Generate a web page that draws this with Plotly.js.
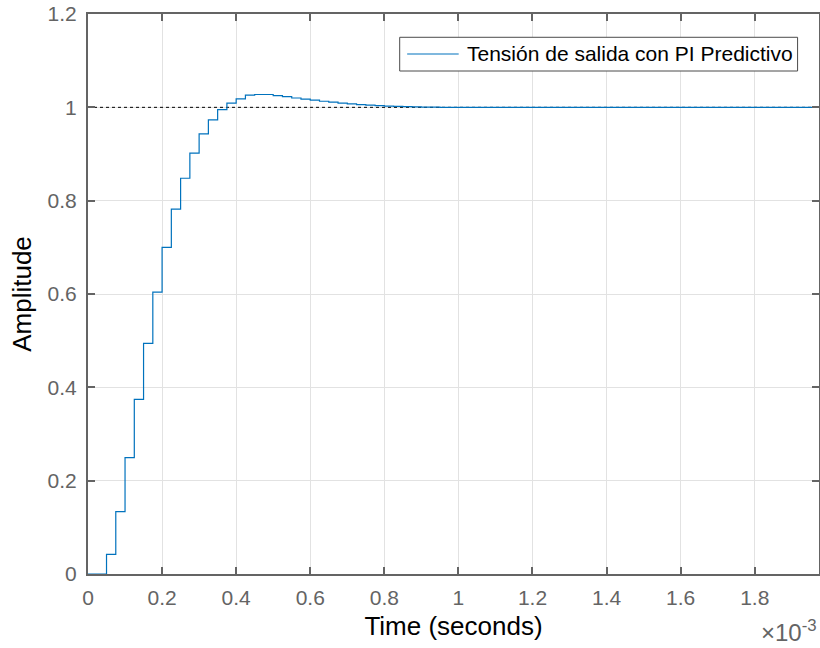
<!DOCTYPE html>
<html>
<head>
<meta charset="utf-8">
<script src="https://cdn.plot.ly/plotly-3.0.1.min.js"></script>
<style>
html,body{margin:0;padding:0;background:#fff;}
#chart{width:820px;height:648px;}
</style>
</head>
<body>
<div id="chart"></div>
<script>
// Sampled step response (stairs), sample time 25 microseconds, starting at t = 0
var sampleStart = 0;
var sampleTime = 2.5e-5;
var amplitude = [
  0, 0, 0.042, 0.1335, 0.2495, 0.374, 0.494, 0.604, 0.700, 0.782,
  0.848, 0.902, 0.943, 0.973, 0.995, 1.009, 1.018, 1.026, 1.0275, 1.0275,
  1.025, 1.023, 1.020, 1.0176, 1.0155, 1.013, 1.011, 1.009, 1.0075, 1.006,
  1.0047, 1.0037, 1.0028, 1.002, 1.0014, 1.001, 1.0006, 1.0003, 1.0001, 1.0,
  1.0, 1.0, 1.0, 1.0, 1.0, 1.0, 1.0, 1.0, 1.0, 1.0,
  1.0, 1.0, 1.0, 1.0, 1.0, 1.0, 1.0, 1.0, 1.0, 1.0,
  1.0, 1.0, 1.0, 1.0, 1.0, 1.0, 1.0, 1.0, 1.0, 1.0,
  1.0, 1.0, 1.0, 1.0, 1.0, 1.0, 1.0, 1.0, 1.0, 1.0
];
var seriesName = 'Tensión de salida con PI Predictivo';

// Steady-state reference line
var steadyX = [0, 1.9735e-3];
var steadyY = [1, 1];

// Axis ticks
var xTickVals = [0, 0.2e-3, 0.4e-3, 0.6e-3, 0.8e-3, 1.0e-3, 1.2e-3, 1.4e-3, 1.6e-3, 1.8e-3];
var xTickText = ['0', '0.2', '0.4', '0.6', '0.8', '1', '1.2', '1.4', '1.6', '1.8'];
var yTickVals = [0, 0.2, 0.4, 0.6, 0.8, 1, 1.2];
var yTickText = ['0', '0.2', '0.4', '0.6', '0.8', '1', '1.2'];
var xRange = [0, 1.9735e-3];
var yRange = [0, 1.2];

var FONT = '"Liberation Sans", Arial, Helvetica, sans-serif';
var AXC = '#646464';
var LINEC = '#0072BD';

var traces = [
  {
    x: steadyX, y: steadyY, type: 'scatter', mode: 'lines',
    line: {color: '#000000', width: 1, dash: 'dot'},
    showlegend: false, hoverinfo: 'skip'
  },
  {
    y: amplitude, x0: sampleStart, dx: sampleTime,
    type: 'scatter', mode: 'lines', name: seriesName,
    line: {color: LINEC, width: 1.2, shape: 'hv'},
    showlegend: false
  }
];

var axisCommon = {
  showline: true, linecolor: AXC, linewidth: 2, mirror: 'ticks',
  ticks: 'inside', ticklen: 7, tickwidth: 2, tickcolor: AXC,
  showgrid: true, gridcolor: '#e2e2e2', gridwidth: 1,
  zeroline: false,
  tickfont: {family: FONT, size: 21, color: AXC}
};

// Legend box (drawn as shapes + text, positioned in paper units)
var legendBox = {x0: 0.4264, x1: 0.9707, y0: 0.8982, y1: 0.9584};
var legendSample = {x0: 0.4366, x1: 0.5071, y: 0.9286};
var legendTextX = 0.5153;

var layout = {
  width: 820, height: 648,
  margin: {l: 87.5, r: 1.3, t: 14, b: 74.3, pad: 0},
  paper_bgcolor: '#ffffff', plot_bgcolor: '#ffffff',
  font: {family: FONT, color: '#000'},
  xaxis: Object.assign({}, axisCommon, {
    range: xRange, tickmode: 'array', tickvals: xTickVals, ticktext: xTickText,
    ticklabelstandoff: 4,
    title: {text: 'Time (seconds)', font: {family: FONT, size: 26, color: '#000'}, standoff: 9}
  }),
  yaxis: Object.assign({}, axisCommon, {
    range: yRange, tickmode: 'array', tickvals: yTickVals, ticktext: yTickText,
    ticklabelstandoff: 5,
    title: {text: 'Amplitude', font: {family: FONT, size: 26, color: '#000'}, standoff: 8}
  }),
  showlegend: false,
  shapes: [
    {
      type: 'rect', xref: 'paper', yref: 'paper',
      x0: legendBox.x0, x1: legendBox.x1, y0: legendBox.y0, y1: legendBox.y1,
      fillcolor: '#ffffff', line: {color: '#4a4a4a', width: 1}, layer: 'above'
    },
    {
      type: 'line', xref: 'paper', yref: 'paper',
      x0: legendSample.x0, x1: legendSample.x1, y0: legendSample.y, y1: legendSample.y,
      line: {color: LINEC, width: 1.2}, layer: 'above'
    }
  ],
  annotations: [
    {
      xref: 'paper', yref: 'paper', x: legendTextX, y: legendSample.y,
      xanchor: 'left', yanchor: 'middle',
      text: seriesName, showarrow: false,
      font: {family: FONT, size: 21, color: '#000'}
    },
    {
      xref: 'paper', yref: 'paper', x: 1, y: -0.1327, xanchor: 'right', yanchor: 'bottom',
      text: '×10<sup>-3</sup>', showarrow: false,
      font: {family: FONT, size: 24, color: AXC}
    }
  ]
};

Plotly.newPlot('chart', traces, layout, {displayModeBar: false, staticPlot: true});
</script>
</body>
</html>
